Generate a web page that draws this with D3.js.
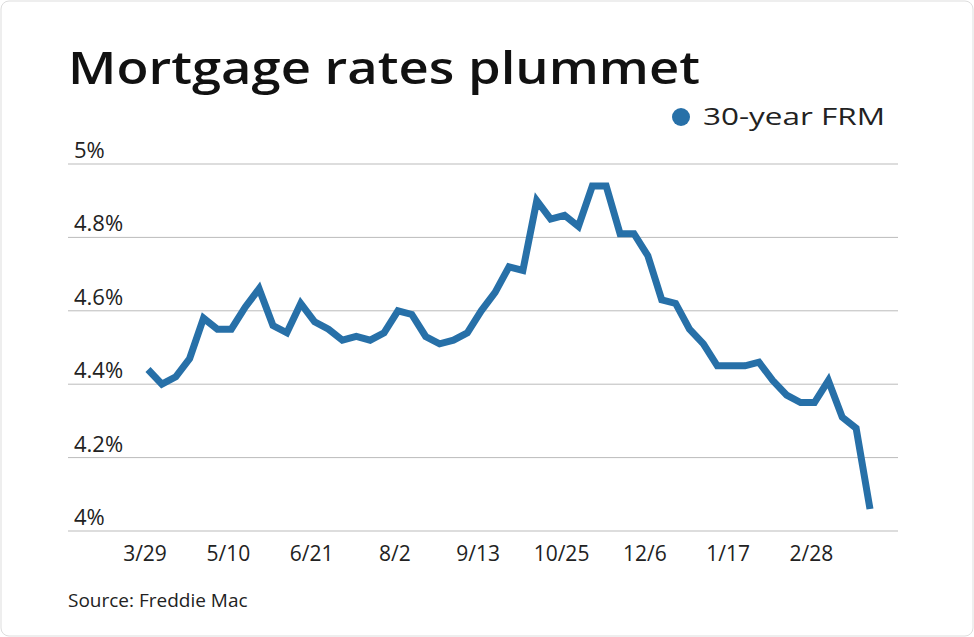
<!DOCTYPE html><html><head><meta charset="utf-8"><script src="https://cdn.jsdelivr.net/npm/d3@7"></script>
<style>body{margin:0;background:#fff}text{font-family:"Open Sans",Lato,sans-serif}</style></head><body><svg id="c" width="974" height="637"></svg><script>
const dates=["3/29","4/5","4/12","4/19","4/26","5/3","5/10","5/17","5/24","5/31","6/7","6/14","6/21","6/28","7/5","7/12","7/19","7/26","8/2","8/9","8/16","8/23","8/30","9/6","9/13","9/20","9/27","10/4","10/11","10/18","10/25","11/1","11/8","11/15","11/21","11/29","12/6","12/13","12/20","12/27","1/3","1/10","1/17","1/24","1/31","2/7","2/14","2/21","2/28","3/7","3/14","3/21","3/28"];
const rates=[4.44,4.40,4.42,4.47,4.58,4.55,4.55,4.61,4.66,4.56,4.54,4.62,4.57,4.55,4.52,4.53,4.52,4.54,4.60,4.59,4.53,4.51,4.52,4.54,4.60,4.65,4.72,4.71,4.90,4.85,4.86,4.83,4.94,4.94,4.81,4.81,4.75,4.63,4.62,4.55,4.51,4.45,4.45,4.45,4.46,4.41,4.37,4.35,4.35,4.41,4.31,4.28,4.06];
const tickLabels=["3/29","5/10","6/21","8/2","9/13","10/25","12/6","1/17","2/28"];
const yTicks=[4,4.2,4.4,4.6,4.8,5];
const svg=d3.select("#c");
svg.append("rect").attr("x",1).attr("y",1).attr("width",972).attr("height",635).attr("rx",8).attr("fill","none").attr("stroke","#ddd");
const x=d3.scaleLinear().domain([0,dates.length-1]).range([148,870]);
const y=d3.scaleLinear().domain([4,5]).range([531,164]);
svg.append("text").attr("x",68).attr("y",84).attr("font-size",46).attr("font-weight",600).attr("fill","#111")
 .attr("textLength",632).attr("lengthAdjust","spacingAndGlyphs").text("Mortgage rates plummet");
svg.append("circle").attr("cx",681).attr("cy",117).attr("r",9).attr("fill","#2770a8");
svg.append("text").attr("x",703).attr("y",125).attr("font-size",23).attr("fill","#222")
 .attr("textLength",182).attr("lengthAdjust","spacingAndGlyphs").text("30-year FRM");
const g=svg.append("g");
yTicks.forEach(t=>{
 g.append("line").attr("x1",68).attr("x2",898).attr("y1",y(t)).attr("y2",y(t)).attr("stroke","#bbb").attr("stroke-width",1);
 g.append("text").attr("x",74).attr("y",y(t)-6).attr("font-size",22).attr("fill","#222").text(t===4||t===5?t+"%":t.toFixed(1)+"%");
});
tickLabels.forEach(l=>{const i=dates.indexOf(l);
 g.append("text").attr("x",x(i)-3).attr("y",561).attr("text-anchor","middle").attr("font-size",21).attr("fill","#222").text(l);});
svg.append("path").datum(rates).attr("fill","none").attr("stroke","#2770a8").attr("stroke-width",7).attr("stroke-linejoin","miter")
 .attr("d",d3.line().x((d,i)=>x(i)).y(d=>y(d)));
svg.append("text").attr("x",68).attr("y",607).attr("font-size",19).attr("fill","#222").text("Source: Freddie Mac");
</script></body></html>
